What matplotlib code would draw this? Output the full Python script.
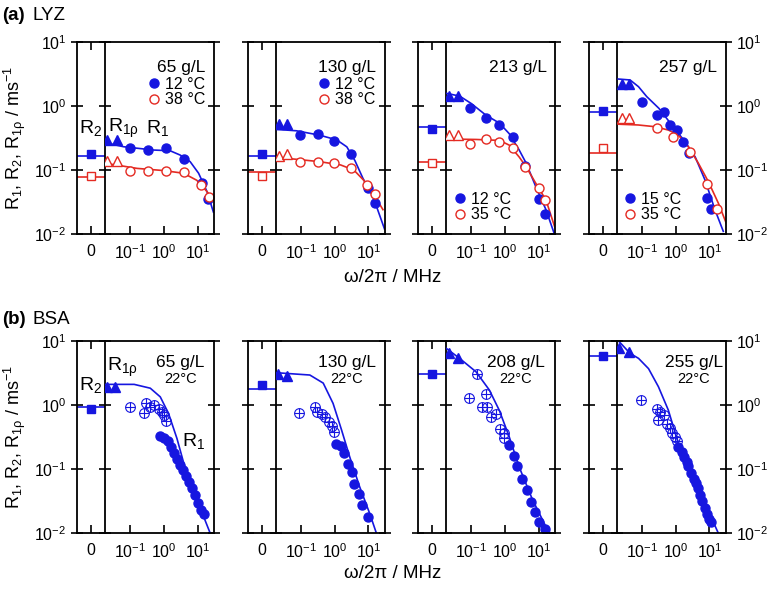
import matplotlib.pyplot as plt
from matplotlib.ticker import NullLocator

plt.rcParams['font.family'] = 'Liberation Sans'
plt.rcParams['mathtext.fontset'] = 'custom'
plt.rcParams['mathtext.rm'] = 'Liberation Sans'
plt.rcParams['mathtext.it'] = 'Liberation Sans:italic'
plt.rcParams['mathtext.bf'] = 'Liberation Sans:bold'

BLUE = '#1616e0'
RED = '#e42a22'

# ---------------- (a) LYZ ----------------
lyz_conc = ['65 g/L', '130 g/L', '213 g/L', '257 g/L']
lyz_temps = [['12 °C', '38 °C'], ['12 °C', '38 °C'], ['12 °C', '35 °C'], ['15 °C', '35 °C']]

# R2 points (blue, red) and R2 fit levels (blue, red)
lyz_r2_pts = [[0.178, 0.081], [0.175, 0.080], [0.43, 0.128], [0.835, 0.218]]
lyz_r2_fit = [[0.164, 0.078], [0.163, 0.093], [0.47, 0.135], [0.80, 0.187]]

# R1rho
lyz_rho_x = [[0.021, 0.040], [0.023, 0.038], [0.022, 0.039], [0.026, 0.042]]
lyz_rho_blue = [[0.29, 0.29], [0.52, 0.52], [1.43, 1.43], [2.18, 2.18]]
lyz_rho_red = [[0.138, 0.138], [0.165, 0.176], [0.352, 0.352], [0.66, 0.66]]

# R1 blue
lyz_r1_x_blue = [
    [0.1, 0.33, 1.13, 3.76, 13.1, 20.5],
    [0.095, 0.32, 0.96, 3.15, 9.7, 15.3],
    [0.091, 0.27, 0.64, 1.66, 3.94, 10.2, 14.7],
    [0.1, 0.277, 0.457, 0.686, 1.08, 1.7, 2.5, 8.3, 11.0],
]
lyz_r1_blue = [
    [0.218, 0.205, 0.223, 0.147, 0.0634, 0.0348],
    [0.352, 0.36, 0.287, 0.176, 0.053, 0.030],
    [0.92, 0.64, 0.50, 0.33, 0.115, 0.035, 0.0205],
    [1.14, 0.72, 0.815, 0.505, 0.42, 0.277, 0.182, 0.036, 0.025],
]
# R1 red
lyz_r1_x_red = [
    [0.1, 0.33, 1.13, 3.76, 12.6, 21.0],
    [0.095, 0.32, 0.96, 3.1, 9.2, 15.3],
    [0.091, 0.27, 0.64, 1.66, 3.94, 10.2, 14.7],
    [0.29, 0.86, 2.7, 8.3, 17.2],
]
lyz_r1_red = [
    [0.098, 0.098, 0.096, 0.0945, 0.058, 0.038],
    [0.133, 0.134, 0.127, 0.109, 0.058, 0.042],
    [0.252, 0.30, 0.277, 0.218, 0.110, 0.052, 0.034],
    [0.458, 0.33, 0.193, 0.06, 0.025],
]
# fitted curves
lyz_fit_x_blue = [
    [0.018, 0.063, 0.49, 1.5, 3.0, 5.9, 10.5, 18.6, 28.8],
    [0.017, 0.074, 0.36, 1.15, 2.3, 4.0, 6.9, 13.8, 30.0],
    [0.018, 0.045, 0.098, 0.27, 0.68, 1.32, 2.6, 4.2, 8.1, 16.2, 28.2],
    [0.020, 0.045, 0.08, 0.14, 0.32, 0.77, 1.9, 3.8, 7.4, 14.6, 25.8],
]
lyz_fit_blue = [
    [0.267, 0.231, 0.205, 0.20, 0.171, 0.135, 0.089, 0.046, 0.022],
    [0.433, 0.41, 0.35, 0.296, 0.23, 0.14, 0.074, 0.038, 0.012],
    [1.58, 1.43, 1.1, 0.72, 0.54, 0.37, 0.206, 0.128, 0.055, 0.024, 0.0103],
    [2.64, 2.55, 2.0, 1.40, 0.92, 0.505, 0.277, 0.16, 0.070, 0.024, 0.011],
]
lyz_fit_x_red = [
    [0.018, 0.05, 0.158, 0.96, 3.76, 9.3, 18.6, 28.8],
    [0.017, 0.074, 0.36, 1.5, 3.7, 7.3, 13.8, 27.0],
    [0.018, 0.138, 0.68, 1.32, 2.6, 4.2, 8.1, 16.2, 30.0],
    [0.020, 0.079, 0.245, 0.62, 1.21, 2.4, 4.7, 9.3, 18.6, 34.7],
]
lyz_fit_red = [
    [0.127, 0.117, 0.106, 0.098, 0.089, 0.069, 0.046, 0.034],
    [0.158, 0.147, 0.135, 0.12, 0.10, 0.069, 0.043, 0.024],
    [0.305, 0.30, 0.29, 0.245, 0.16, 0.112, 0.062, 0.034, 0.0125],
    [0.52, 0.505, 0.475, 0.42, 0.35, 0.23, 0.128, 0.066, 0.030, 0.013],
]

# ---------------- (b) BSA ----------------
bsa_conc = ['65 g/L', '130 g/L', '208 g/L', '255 g/L']
bsa_temp = '22°C'
bsa_r2_pt = [0.866, 2.05, 3.02, 5.8]
bsa_r2_fit = [0.93, 1.78, 3.0, 5.8]
bsa_rho_x = [[0.021, 0.036], [0.021, 0.038], [0.022, 0.039], [0.0205, 0.042]]
bsa_rho = [[1.93, 1.93], [3.1, 2.84], [6.6, 5.5], [7.7, 6.8]]
bsa_cross_x = [
    [0.095, 0.29, 0.26, 0.39, 0.51, 0.69, 0.86, 0.96, 1.13],
    [0.089, 0.26, 0.30, 0.41, 0.51, 0.69, 0.86, 0.94],
    [0.147, 0.087, 0.28, 0.21, 0.30, 0.38, 0.54, 0.71, 0.94, 0.94],
    [0.095, 0.28, 0.35, 0.30, 0.44, 0.55, 0.69, 0.77, 0.93, 1.08],
]
bsa_cross = [
    [0.92, 1.09, 0.74, 0.92, 1.0, 0.87, 0.79, 0.70, 0.57],
    [0.74, 0.92, 0.77, 0.72, 0.64, 0.55, 0.47, 0.38],
    [3.0, 1.27, 1.48, 0.92, 0.92, 0.66, 0.72, 0.42, 0.36, 0.31],
    [1.2, 0.86, 0.78, 0.58, 0.70, 0.50, 0.43, 0.36, 0.32, 0.27],
]
bsa_r1_x = [
    [0.77, 1.01, 1.33, 1.63, 2.0, 2.45, 3.0, 3.68, 4.5, 5.5, 6.8, 8.3, 10.2, 12.5, 15.4],
    [1.13, 1.6, 1.86, 2.5, 3.2, 3.7, 5.3, 6.6, 9.7],
    [1.3, 1.78, 2.3, 3.2, 4.4, 5.8, 7.7, 10.2, 15.4],
    [1.21, 1.51, 1.82, 2.14, 2.4, 2.88, 3.39, 3.98, 4.47, 5.25, 6.17, 7.41, 8.32, 9.77, 11.2],
]
bsa_r1 = [
    [0.328, 0.305, 0.274, 0.221, 0.178, 0.143, 0.115, 0.096, 0.078, 0.063, 0.050, 0.039, 0.029, 0.023, 0.020],
    [0.25, 0.23, 0.18, 0.12, 0.09, 0.058, 0.040, 0.027, 0.018],
    [0.237, 0.162, 0.11, 0.071, 0.047, 0.030, 0.021, 0.015, 0.0115],
    [0.224, 0.186, 0.155, 0.129, 0.11, 0.087, 0.071, 0.060, 0.050, 0.039, 0.032, 0.025, 0.020, 0.0166, 0.0148],
]
bsa_fit_x = [
    [0.018, 0.13, 0.39, 0.77, 1.35, 2.4, 4.5, 9.0, 23.0],
    [0.018, 0.185, 0.46, 0.90, 1.6, 2.8, 5.5, 11.0, 17.4],
    [0.018, 0.045, 0.138, 0.34, 0.67, 1.32, 2.6, 6.5, 16.2, 21.5],
    [0.0205, 0.045, 0.08, 0.158, 0.31, 0.61, 1.21, 3.0, 7.4, 18.6],
]
bsa_fit = [
    [2.1, 2.1, 1.83, 1.34, 0.74, 0.30, 0.09, 0.035, 0.01],
    [3.2, 2.94, 2.2, 1.06, 0.41, 0.155, 0.053, 0.02, 0.0098],
    [7.7, 5.35, 3.3, 1.72, 0.83, 0.32, 0.108, 0.033, 0.0125, 0.01],
    [10.0, 6.4, 5.35, 3.7, 1.93, 0.83, 0.25, 0.086, 0.029, 0.0098],
]
bsa_text_x = [0.69, 0.656, 0.64, 0.71]

# ---------------- layout ----------------
W, H = 767, 589
panel_left = [77, 247.5, 418, 588.5]
panel_top = [42, 341]
w0, w1, hp = 28, 109, 192

fig = plt.figure(figsize=(W / 100, H / 100), dpi=100)


def add_panel(col, row):
    l = panel_left[col] / W
    b = 1 - (panel_top[row] + hp) / H
    ax0 = fig.add_axes([l, b, w0 / W, hp / H])
    ax1 = fig.add_axes([l + w0 / W, b, w1 / W, hp / H])
    ax1.set_facecolor('none')
    for ax in (ax0, ax1):
        ax.set_yscale('log')
        ax.set_ylim(1e-2, 1e1)
        ax.yaxis.set_minor_locator(NullLocator())
        for s in ax.spines.values():
            s.set_linewidth(1.3)
        ax.tick_params(labelsize=11.5)
    ax0.set_xlim(-1, 1)
    ax0.set_xticks([0])
    ax0.set_xticklabels(['0'])
    ax1.set_xscale('log')
    ax1.set_xlim(0.0178, 30)
    ax1.set_xticks([0.1, 1, 10])
    ax1.xaxis.set_minor_locator(NullLocator())
    ax1.spines['left'].set_visible(False)
    ax0.spines['right'].set_zorder(5)
    ax0.tick_params(axis='y', direction='inout', length=8, width=1.2,
                    left=True, right=True, labelleft=(col == 0), labelright=False)
    ax1.tick_params(axis='y', direction='inout', length=8, width=1.2,
                    left=False, right=True, labelleft=False, labelright=(col == 3))
    ax0.tick_params(axis='x', direction='in', length=6, width=1.2, top=True, pad=7)
    ax1.tick_params(axis='x', direction='in', length=6, width=1.2, pad=7)
    return ax0, ax1


r2_x = 0
lw_fit = 1.2

# ---- row a ----
for i in range(4):
    ax0, ax1 = add_panel(i, 0)
    ax0.axhline(lyz_r2_fit[i][0], color=BLUE, lw=lw_fit)
    ax0.axhline(lyz_r2_fit[i][1], color=RED, lw=lw_fit)
    ax0.plot(r2_x, lyz_r2_pts[i][0], 's', color=BLUE, ms=6)
    ax0.plot(r2_x, lyz_r2_pts[i][1], 's', mfc='white', mec=RED, mew=1, ms=6)

    ax1.plot(lyz_fit_x_blue[i], lyz_fit_blue[i], '-', color=BLUE, lw=lw_fit)
    ax1.plot(lyz_fit_x_red[i], lyz_fit_red[i], '-', color=RED, lw=lw_fit)
    ax1.plot(lyz_rho_x[i], lyz_rho_blue[i], '^', color=BLUE, ms=7, ls='none')
    ax1.plot(lyz_rho_x[i], lyz_rho_red[i], '^', mfc='white', mec=RED, mew=1, ms=7, ls='none')
    hb, = ax1.plot(lyz_r1_x_blue[i], lyz_r1_blue[i], 'o', color=BLUE, ms=6.5, ls='none')
    hr, = ax1.plot(lyz_r1_x_red[i], lyz_r1_red[i], 'o', mfc='white', mec=RED, mew=1, ms=6.5, ls='none')

    ax1.text(0.925, 0.865, lyz_conc[i], transform=ax1.transAxes, ha='right', va='center', fontsize=12.5)
    if i < 2:
        ax1.legend([hb, hr], lyz_temps[i], loc='upper right', bbox_to_anchor=(0.92, 0.82),
                   frameon=False, handlelength=0.6, handletextpad=0.4, borderpad=0,
                   labelspacing=0.05, fontsize=11.5, borderaxespad=0)
    else:
        ax1.legend([hb, hr], lyz_temps[i], loc='lower left', bbox_to_anchor=(0.08, 0.06),
                   frameon=False, handlelength=0.6, handletextpad=0.4, borderpad=0,
                   labelspacing=0.05, fontsize=11.5, borderaxespad=0)
    if i == 0:
        ax0.text(r2_x, 0.55, r'R$_2$', transform=ax0.get_xaxis_transform(),
                 ha='center', va='center', fontsize=14)
        ax1.text(0.03, 0.55, r'R$_{\mathrm{1ρ}}$', transform=ax1.transAxes,
                 ha='left', va='center', fontsize=14)
        ax1.text(0.38, 0.55, r'R$_1$', transform=ax1.transAxes,
                 ha='left', va='center', fontsize=14)

# ---- row b ----
for i in range(4):
    ax0, ax1 = add_panel(i, 1)
    ax0.axhline(bsa_r2_fit[i], color=BLUE, lw=lw_fit)
    ax0.plot(r2_x, bsa_r2_pt[i], 's', color=BLUE, ms=6)

    ax1.plot(bsa_fit_x[i], bsa_fit[i], '-', color=BLUE, lw=lw_fit)
    ax1.plot(bsa_rho_x[i], bsa_rho[i], '^', color=BLUE, ms=7, ls='none')
    ax1.plot(bsa_cross_x[i], bsa_cross[i], 'o', mfc='none', mec=BLUE, mew=0.8, ms=7, ls='none')
    ax1.plot(bsa_cross_x[i], bsa_cross[i], '+', color=BLUE, mew=0.8, ms=7, ls='none')
    ax1.plot(bsa_r1_x[i], bsa_r1[i], 'o', color=BLUE, ms=6.5, ls='none')

    ax1.text(bsa_text_x[i], 0.89, bsa_conc[i], transform=ax1.transAxes, ha='center', va='center', fontsize=12.5)
    ax1.text(bsa_text_x[i], 0.80, bsa_temp, transform=ax1.transAxes, ha='center', va='center', fontsize=10.5)
    if i == 0:
        ax0.text(r2_x, 0.77, r'R$_2$', transform=ax0.get_xaxis_transform(),
                 ha='center', va='center', fontsize=14)
        ax1.text(0.02, 0.86, r'R$_{\mathrm{1ρ}}$', transform=ax1.transAxes,
                 ha='left', va='center', fontsize=14)
        ax1.text(0.71, 0.48, r'R$_1$', transform=ax1.transAxes,
                 ha='left', va='center', fontsize=14)

# ---- labels ----
ylab = r'R$_1$, R$_2$, R$_{\mathrm{1ρ}}$ / ms$^{-1}$'
fig.text(15 / W, 1 - 138 / H, ylab, rotation=90, ha='center', va='center', fontsize=13)
fig.text(15 / W, 1 - 437 / H, ylab, rotation=90, ha='center', va='center', fontsize=13)
fig.text(393 / W, 1 - 277 / H, 'ω/2π / MHz', ha='center', va='center', fontsize=13.5)
fig.text(393 / W, 1 - 574 / H, 'ω/2π / MHz', ha='center', va='center', fontsize=13.5)

fig.text(2 / W, 1 - 16 / H, '(a)', fontweight='bold', ha='left', va='center', fontsize=13.5)
fig.text(33 / W, 1 - 16 / H, 'LYZ', ha='left', va='center', fontsize=13.5)
fig.text(2 / W, 1 - 320 / H, '(b)', fontweight='bold', ha='left', va='center', fontsize=13.5)
fig.text(33 / W, 1 - 320 / H, 'BSA', ha='left', va='center', fontsize=13.5)

fig.savefig('out.png', dpi=100)
